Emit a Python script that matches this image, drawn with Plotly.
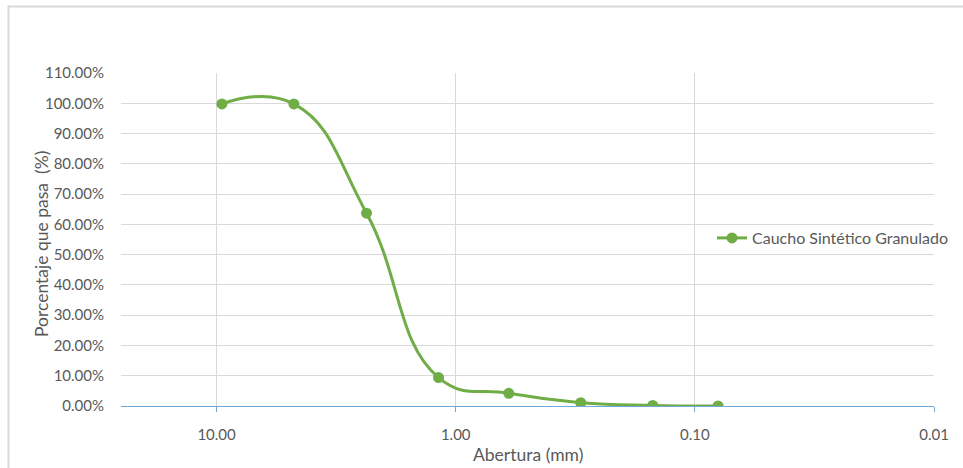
import math
import plotly.graph_objects as go

# Data
aberturas_mm = [9.5, 4.75, 2.36, 1.18, 0.6, 0.3, 0.15, 0.08]
pct_pasa = [0.998, 0.998, 0.637, 0.094, 0.042, 0.011, 0.002, 0.0]
series_name = "Caucho Sintético Granulado"
x_tickvals = [10, 1, 0.1, 0.01]
x_ticktext = ["10.00", "1.00", "0.10", "0.01"]
y_tickvals = [i / 10 for i in range(12)]

GREEN = "#70AD47"
GRID = "#D9D9D9"
AXIS_BLUE = "#6FA8DC"
TXT = "#595959"
FONT = "Lato"

W, H = 963, 468
L, R, T, B = 121, 29, 73, 62
pw, ph = W - L - R, H - T - B

fig = go.Figure()

fig.add_trace(go.Scatter(
    x=aberturas_mm, y=pct_pasa, mode="lines+markers", name=series_name,
    line=dict(color=GREEN, width=3, shape="spline", smoothing=1.3),
    marker=dict(color=GREEN, size=11)))

fig.update_layout(
    width=W, height=H,
    margin=dict(l=L, r=R, t=T, b=B, autoexpand=False),
    paper_bgcolor="white", plot_bgcolor="white",
    font=dict(family=FONT, size=15, color=TXT),
    showlegend=True,
    legend=dict(x=(712 - L) / pw, y=(406 - 238) / ph, xanchor="left", yanchor="middle",
                bgcolor="rgba(0,0,0,0)", font=dict(family=FONT, size=16, color=TXT),
                itemwidth=30),
    xaxis=dict(type="log", range=[math.log10(25.1), -2], automargin=False,
               tickvals=x_tickvals, ticktext=x_ticktext,
               showgrid=True, gridcolor=GRID, gridwidth=1,
               showline=True, linecolor=AXIS_BLUE, linewidth=1,
               ticks="outside", ticklen=5, tickcolor=AXIS_BLUE,
               ticklabelstandoff=10, zeroline=False),
    yaxis=dict(range=[0, 1.1], tickvals=y_tickvals, tickformat=".2%", automargin=False,
               showgrid=True, gridcolor=GRID, gridwidth=1,
               showline=False, zeroline=False, ticks="",
               ticklabelstandoff=16),
    shapes=[dict(type="rect", xref="paper", yref="paper",
                 x0=(8.5 - L) / pw, x1=1.2, y0=-0.5, y1=1 + (T - 6.5) / ph,
                 line=dict(color="#D9D9D9", width=2), fillcolor="rgba(0,0,0,0)", layer="below")],
    annotations=[
        dict(text="Abertura (mm)", xref="paper", yref="paper",
             x=0.5, y=-(455 - 406) / ph, xanchor="center", yanchor="middle",
             showarrow=False, font=dict(family=FONT, size=17.5, color=TXT)),
        dict(text="Porcentaje que pasa  (%)", xref="paper", yref="paper",
             x=(41 - L) / pw, y=(406 - 244) / ph, xanchor="center", yanchor="middle",
             textangle=-90, showarrow=False, font=dict(family=FONT, size=17.5, color=TXT)),
    ],
)

fig.write_html("out.html")
